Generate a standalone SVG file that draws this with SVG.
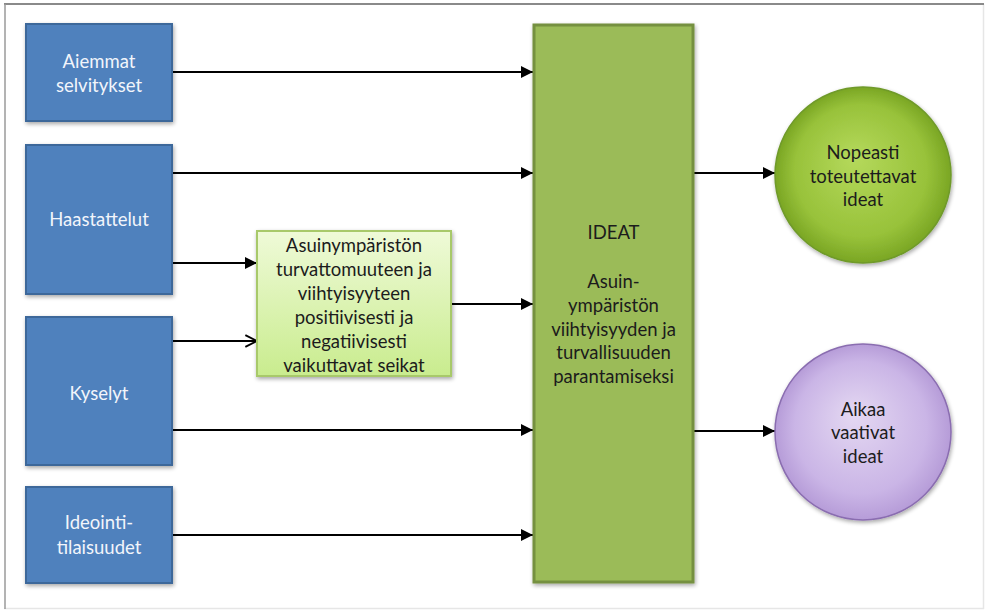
<svg xmlns="http://www.w3.org/2000/svg" width="985" height="610" viewBox="0 0 985 610">
  <style>
    .blue { fill: #4f81bd; stroke: #3c679a; stroke-width: 2; }
    .ideat { fill: #9bbb59; stroke: #74903f; stroke-width: 3; }
    .light { fill: url(#lightGrad); stroke: #a8c96a; stroke-width: 2; }
    .gcirc { fill: url(#greenGrad); stroke: #6f9a2a; stroke-width: 1.5; }
    .pcirc { fill: url(#purpleGrad); stroke: #8a6db0; stroke-width: 1.5; }
    text { font-family: Lato, "Open Sans", "Liberation Sans", sans-serif; font-size: 18.5px; text-anchor: middle; }
    .wt { fill: #f2f5fb; }
    .dk { fill: #1c1c1c; }
    .conn line { stroke: #000; stroke-width: 2; fill: none; }
  </style>
  <defs>
    <linearGradient id="lightGrad" x1="0" y1="0" x2="0" y2="1">
      <stop offset="0" stop-color="#effad8"/>
      <stop offset="1" stop-color="#c9ec8e"/>
    </linearGradient>
    <radialGradient id="greenGrad" cx="0.5" cy="0.5" r="0.5" fx="0.45" fy="0.4">
      <stop offset="0" stop-color="#b5d95c"/>
      <stop offset="0.75" stop-color="#98c23a"/>
      <stop offset="1" stop-color="#7aa624"/>
    </radialGradient>
    <radialGradient id="purpleGrad" cx="0.5" cy="0.5" r="0.5" fx="0.45" fy="0.4">
      <stop offset="0" stop-color="#e4d8f2"/>
      <stop offset="0.75" stop-color="#cab5e6"/>
      <stop offset="1" stop-color="#b69cd8"/>
    </radialGradient>
    <filter id="shadow" x="-10%" y="-10%" width="130%" height="130%">
      <feGaussianBlur in="SourceAlpha" stdDeviation="2"/>
      <feOffset dx="1" dy="2" result="b"/>
      <feComponentTransfer><feFuncA type="linear" slope="0.35"/></feComponentTransfer>
      <feMerge><feMergeNode/><feMergeNode in="SourceGraphic"/></feMerge>
    </filter>
    <marker id="arrow" viewBox="0 0 10 10" refX="10" refY="5" markerWidth="6" markerHeight="6" markerUnits="strokeWidth" orient="auto">
      <path d="M0,0 L10,5 L0,10 z" fill="#000"/>
    </marker>
    <marker id="open" viewBox="0 0 12 12" refX="11" refY="6" markerWidth="7" markerHeight="7" markerUnits="strokeWidth" orient="auto">
      <path d="M1,1 L11,6 L1,11" fill="none" stroke="#000" stroke-width="1.6"/>
    </marker>
  </defs>

  <rect x="0" y="0" width="985" height="610" fill="#fff"/>
  <!-- frame -->
  <line x1="983.5" y1="4" x2="983.5" y2="609" stroke="#e6e6e6" stroke-width="1.5"/>
  <line x1="4" y1="608.5" x2="984" y2="608.5" stroke="#e6e6e6" stroke-width="1.5"/>
  <line x1="4" y1="4" x2="984" y2="4" stroke="#8a8a8a" stroke-width="2"/>
  <line x1="5" y1="4" x2="5" y2="609" stroke="#9a9a9a" stroke-width="1.5"/>

  <g class="conn">
    <line x1="172" y1="72" x2="533" y2="72" marker-end="url(#arrow)"/>
    <line x1="172" y1="173" x2="533" y2="173" marker-end="url(#arrow)"/>
    <line x1="172" y1="263" x2="257" y2="263" marker-end="url(#arrow)"/>
    <line x1="172" y1="341" x2="257" y2="341" marker-end="url(#open)"/>
    <line x1="451" y1="304" x2="533" y2="304" marker-end="url(#arrow)"/>
    <line x1="172" y1="430" x2="533" y2="430" marker-end="url(#arrow)"/>
    <line x1="172" y1="535" x2="533" y2="535" marker-end="url(#arrow)"/>
    <line x1="694" y1="173" x2="775" y2="173" marker-end="url(#arrow)"/>
    <line x1="694" y1="431" x2="775" y2="431" marker-end="url(#arrow)"/>
  </g>

  <g id="aiemmat">
    <rect class="blue" x="26" y="24" width="146" height="97" filter="url(#shadow)"/>
    <text class="wt" x="99" y="68">Aiemmat</text>
    <text class="wt" x="99" y="92">selvitykset</text>
  </g>
  <g id="haastattelut">
    <rect class="blue" x="26" y="145" width="146" height="149" filter="url(#shadow)"/>
    <text class="wt" x="99" y="226">Haastattelut</text>
  </g>
  <g id="kyselyt">
    <rect class="blue" x="26" y="317" width="146" height="148" filter="url(#shadow)"/>
    <text class="wt" x="99" y="400">Kyselyt</text>
  </g>
  <g id="ideointi">
    <rect class="blue" x="26" y="487" width="146" height="96" filter="url(#shadow)"/>
    <text class="wt" x="99" y="529">Ideointi-</text>
    <text class="wt" x="99" y="554">tilaisuudet</text>
  </g>

  <g id="seikat">
    <rect class="light" x="257" y="231" width="194" height="145" filter="url(#shadow)"/>
    <text class="dk" x="354" y="252">Asuinympäristön</text>
    <text class="dk" x="354" y="276">turvattomuuteen ja</text>
    <text class="dk" x="354" y="300">viihtyisyyteen</text>
    <text class="dk" x="354" y="324">positiivisesti ja</text>
    <text class="dk" x="354" y="348">negatiivisesti</text>
    <text class="dk" x="354" y="372">vaikuttavat seikat</text>
  </g>

  <g id="ideat">
    <rect class="ideat" x="534" y="25" width="159" height="557" filter="url(#shadow)"/>
    <text class="dk" x="613.5" y="239">IDEAT</text>
    <text class="dk" x="613.5" y="288">Asuin-</text>
    <text class="dk" x="613.5" y="312">ympäristön</text>
    <text class="dk" x="613.5" y="336">viihtyisyyden ja</text>
    <text class="dk" x="613.5" y="359">turvallisuuden</text>
    <text class="dk" x="613.5" y="383">parantamiseksi</text>
  </g>

  <g id="nopeasti">
    <circle class="gcirc" cx="863" cy="175" r="88" filter="url(#shadow)"/>
    <text class="dk" x="863" y="159">Nopeasti</text>
    <text class="dk" x="863" y="183">toteutettavat</text>
    <text class="dk" x="863" y="206">ideat</text>
  </g>

  <g id="aikaa">
    <circle class="pcirc" cx="863" cy="432" r="88" filter="url(#shadow)"/>
    <text class="dk" x="863" y="416">Aikaa</text>
    <text class="dk" x="863" y="439">vaativat</text>
    <text class="dk" x="863" y="463">ideat</text>
  </g>
</svg>
